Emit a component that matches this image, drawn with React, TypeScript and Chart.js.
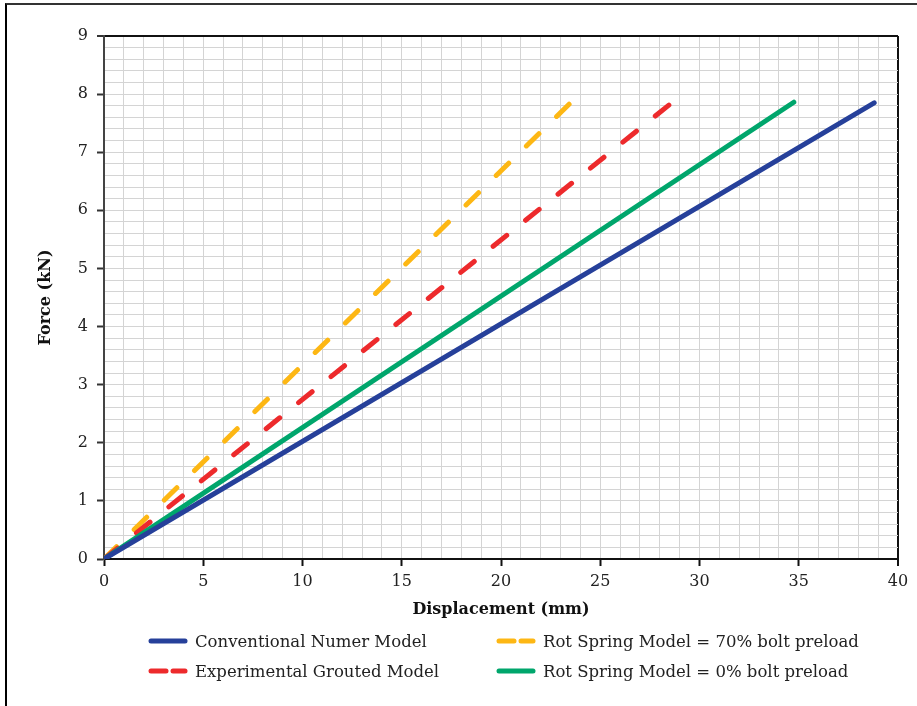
import React, { useEffect, useRef } from "react";
import { Chart, registerables } from "chart.js";

Chart.register(...registerables);

const seriesNames = [
  "Conventional Numer Model",
  "Experimental Grouted Model",
  "Rot Spring Model = 70% bolt preload",
  "Rot Spring Model = 0% bolt preload",
];
const conventionalX = [0, 38.8];
const conventionalY = [0, 7.85];
const experimentalX = [0, 28.6];
const experimentalY = [0, 7.85];
const spring70X = [0, 23.5];
const spring70Y = [0, 7.85];
const spring0X = [0, 34.75];
const spring0Y = [0, 7.86];

const xTitle = "Displacement (mm)";
const yTitle = "Force (kN)";

const BLUE = "#26409a";
const RED = "#ed2a2c";
const YELLOW = "#fdb714";
const GREEN = "#00a66c";
const FONT = "'DejaVu Serif', serif";

const pts = (xs: number[], ys: number[]) => xs.map((x, i) => ({ x, y: ys[i] }));
const isInt = (v: number) => Math.abs(v - Math.round(v)) < 1e-6;
const isTop = (v: number) => Math.abs(v - 9) < 1e-6;

export default function App() {
  const ref = useRef<HTMLCanvasElement>(null);
  useEffect(() => {
    if (!ref.current) return;
    const chart = new Chart(ref.current, {
      type: "line",
      data: {
        datasets: [
          { label: seriesNames[0], data: pts(conventionalX, conventionalY), borderColor: BLUE, borderWidth: 5, borderCapStyle: "round", pointRadius: 0, order: 1 },
          { label: seriesNames[1], data: pts(experimentalX, experimentalY), borderColor: RED, borderWidth: 5, borderCapStyle: "round", borderDash: [17.4, 24.2], pointRadius: 0, order: 3 },
          { label: seriesNames[2], data: pts(spring70X, spring70Y), borderColor: YELLOW, borderWidth: 5, borderCapStyle: "round", borderDash: [17.5, 24.7], pointRadius: 0, order: 4 },
          { label: seriesNames[3], data: pts(spring0X, spring0Y), borderColor: GREEN, borderWidth: 5, borderCapStyle: "round", pointRadius: 0, order: 2 },
        ],
      },
      options: {
        responsive: false,
        animation: false,
        layout: { padding: { left: 26, top: 36, right: 19, bottom: 81 } },
        plugins: { legend: { display: false }, tooltip: { enabled: false } },
        scales: {
          x: {
            type: "linear",
            min: 0,
            max: 40,
            afterFit: (s: any) => { s.height = 66; },
            ticks: {
              stepSize: 1,
              autoSkip: false,
              maxRotation: 0,
              padding: 6,
              color: "#222",
              font: { family: FONT, size: 16 },
              callback: (v: any) => (Number(v) % 5 === 0 ? String(v) : ""),
            },
            grid: {
              color: (c: any) => (c.tick && c.tick.value === 40 ? "#111" : "#d4d4d4"),
              lineWidth: (c: any) => (c.tick && c.tick.value === 40 ? 2 : 1),
              tickLength: 7,
              tickColor: (c: any) => (c.tick && c.tick.value % 5 === 0 ? "#111" : "rgba(0,0,0,0)"),
              tickWidth: 2,
            },
            border: { color: "#111", width: 2 },
            title: { display: true, text: xTitle, color: "#111", font: { family: FONT, size: 16, weight: "bold" }, padding: { top: 6, bottom: 6 } },
          },
          y: {
            type: "linear",
            min: 0,
            max: 9,
            afterFit: (s: any) => { s.width = 78; },
            ticks: {
              stepSize: 0.2,
              autoSkip: false,
              padding: 9,
              color: "#222",
              font: { family: FONT, size: 16 },
              callback: (v: any) => (isInt(Number(v)) ? String(Math.round(Number(v))) : ""),
            },
            grid: {
              color: (c: any) => (c.tick && isTop(c.tick.value) ? "#111" : "#d4d4d4"),
              lineWidth: (c: any) => (c.tick && isTop(c.tick.value) ? 2 : 1),
              tickLength: 7,
              tickColor: (c: any) => (c.tick && isInt(c.tick.value) ? "#333" : "rgba(0,0,0,0)"),
              tickWidth: 2,
            },
            border: { color: "#444", width: 2 },
            title: { display: true, text: yTitle, color: "#111", font: { family: FONT, size: 16, weight: "bold" }, padding: { top: 10, bottom: 10 } },
          },
        },
      },
    });
    return () => chart.destroy();
  }, []);

  const legendItems = [
    { name: seriesNames[0], color: BLUE, dash: false, left: 147, top: 641 },
    { name: seriesNames[2], color: YELLOW, dash: true, left: 495, top: 641 },
    { name: seriesNames[1], color: RED, dash: true, left: 147, top: 671 },
    { name: seriesNames[3], color: GREEN, dash: false, left: 495, top: 671 },
  ];

  return (
    <div style={{ position: "fixed", left: 0, top: 0, width: 917, height: 706, background: "#fff", overflow: "hidden" }}>
      <div style={{ position: "absolute", left: 5, top: 3, width: 1000, height: 1000, borderLeft: "2px solid #000", borderTop: "2px solid #333" }} />
      <canvas ref={ref} width={917} height={706} style={{ position: "absolute", left: 0, top: 0 }} />
      {legendItems.map((it) => (
        <div key={it.name} style={{ position: "absolute", left: it.left, top: it.top - 12, height: 24, display: "flex", alignItems: "center", whiteSpace: "nowrap" }}>
          <svg width={42} height={10} style={{ marginRight: 6 }}>
            {it.dash ? (
              <g stroke={it.color} strokeWidth={5} strokeLinecap="round">
                <line x1={4} y1={5} x2={19} y2={5} />
                <line x1={26} y1={5} x2={38} y2={5} />
              </g>
            ) : (
              <line x1={4} y1={5} x2={38} y2={5} stroke={it.color} strokeWidth={5} strokeLinecap="round" />
            )}
          </svg>
          <span style={{ fontFamily: FONT, fontSize: 16.5, color: "#222" }}>{it.name}</span>
        </div>
      ))}
    </div>
  );
}
